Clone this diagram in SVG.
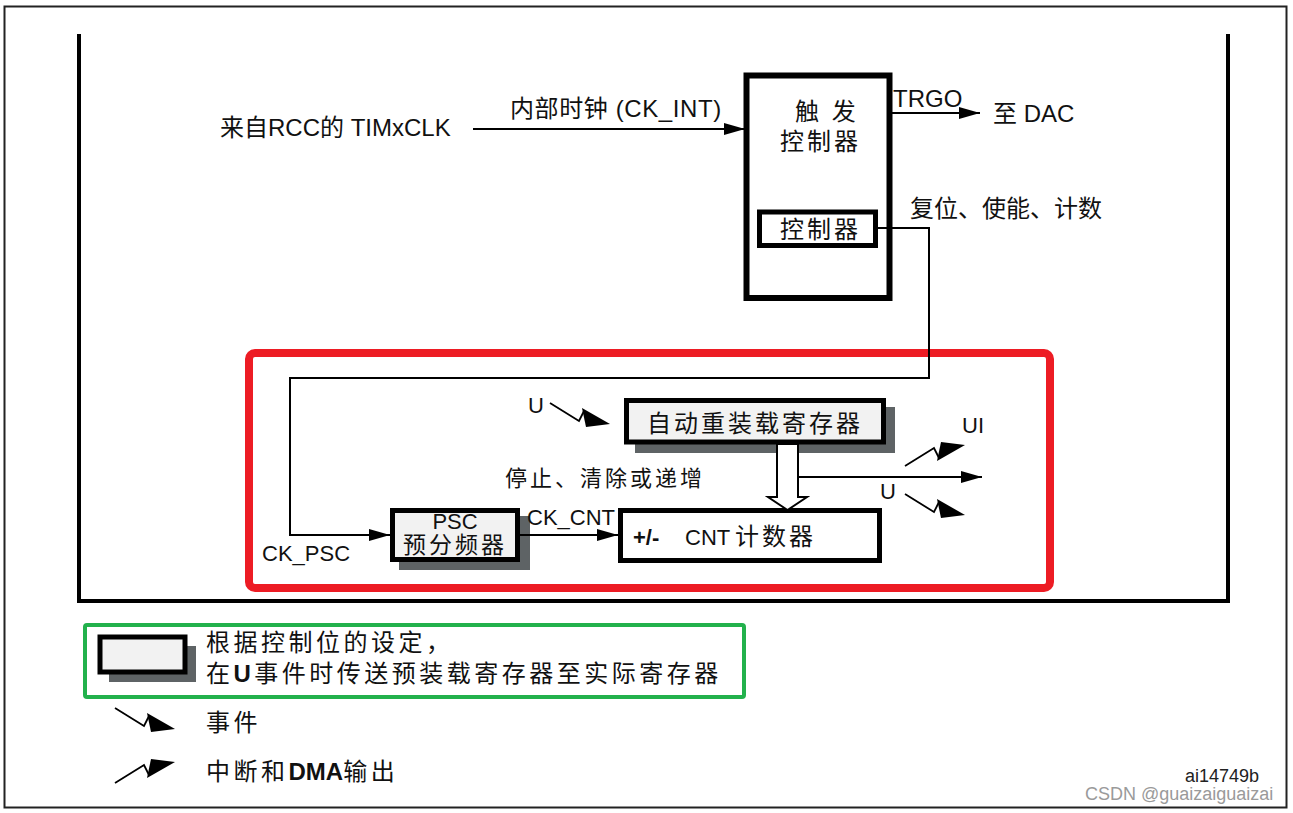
<svg xmlns="http://www.w3.org/2000/svg" width="1293" height="813" viewBox="0 0 1293 813">
<style>
text { font-family: "Liberation Sans", "Noto Sans CJK SC", sans-serif; fill: #111; font-size: 23px; }
.f22 { font-size: 22px; }
.f24 { font-size: 24px; }
.ls3 { letter-spacing: 3px; }
.ls35 { letter-spacing: 3.5px; }
.b { font-weight: bold; }
.box { fill: #fff; stroke: #000; }
.pre { fill: #f2f2f2; stroke: #000; stroke-width: 5; }
.shadow { fill: #5e6365; }
.wire { fill: none; stroke: #000; stroke-width: 2; }
.sym { fill: none; stroke: #000; stroke-width: 1.8; }
</style>
<defs>
<marker id="arr" markerUnits="userSpaceOnUse" markerWidth="22" markerHeight="14" refX="21" refY="7" orient="auto">
<path d="M0,1 L21,7 L0,13 z" fill="#000"/>
</marker>
<g id="evt">
<polyline points="0,0 29,18 34,8" class="sym"/>
<polygon points="32,5 60,21 36,24" fill="#000"/>
</g>
</defs>

<g id="frame">
<rect x="4.5" y="6.5" width="1282" height="801" fill="none" stroke="#222" stroke-width="2"/>
<path d="M79,34 V601 H1228 V34" fill="none" stroke="#000" stroke-width="4"/>
</g>

<g id="highlight-red">
<rect x="249" y="353" width="801" height="235" rx="6" fill="none" stroke="#ED1C24" stroke-width="8"/>
</g>

<g id="trigger-controller">
<rect class="box" x="746.5" y="75.5" width="143" height="222.5" stroke-width="6"/>
<text class="f24 ls3" x="795" y="120">触 发</text>
<text class="f24 ls3" x="780" y="150">控制器</text>
</g>

<g id="controller">
<rect class="box" x="759.5" y="212" width="116" height="33.5" stroke-width="5"/>
<text class="f24 ls3" x="780" y="238">控制器</text>
</g>

<g id="reload-register">
<rect class="shadow" x="635" y="407" width="260" height="46"/>
<rect class="pre" x="626.5" y="400.5" width="257" height="41.5"/>
<text class="f24 ls3" x="647" y="432">自动重装载寄存器</text>
</g>

<g id="psc">
<rect class="shadow" x="399" y="516" width="131" height="54"/>
<rect class="pre" x="392.5" y="510.5" width="125" height="49"/>
<text class="f22" x="455" y="529" text-anchor="middle">PSC</text>
<text class="ls3" x="403" y="553">预分频器</text>
</g>

<g id="cnt">
<rect class="box" x="620.5" y="510.5" width="259" height="50" stroke-width="5"/>
<text class="f22 b" x="633" y="545">+/-</text>
<text class="f22" x="685" y="545">CNT <tspan class="f24 ls3" x="735">计数器</tspan></text>
</g>

<g id="connectors">
<line class="wire" x1="473" y1="129" x2="745" y2="129" marker-end="url(#arr)"/>
<line class="wire" x1="892" y1="113" x2="980" y2="113" marker-end="url(#arr)"/>
<path class="wire" d="M878,228 H929 V378 H290 V535 H390" marker-end="url(#arr)"/>
<line class="wire" x1="520" y1="535" x2="618" y2="535" marker-end="url(#arr)"/>
<line class="wire" x1="798" y1="477" x2="982" y2="477" marker-end="url(#arr)"/>
<polygon points="777,444 777,497 768,497 787.5,510 807,497 798,497 798,444" fill="#fff" stroke="#000" stroke-width="2"/>
<use href="#evt" x="550" y="403"/>
<use href="#evt" transform="translate(905,466) scale(1,-1)"/>
<use href="#evt" x="905" y="494"/>
</g>

<g id="labels">
<text class="f24" x="220" y="136">来自RCC的 TIMxCLK</text>
<text class="f24" x="510" y="117" letter-spacing="0.6">内部时钟 (CK_INT)</text>
<text class="f24" x="893" y="107">TRGO</text>
<text class="f24" x="993" y="122">至 DAC</text>
<text class="f24" x="910" y="217">复位、使能、计数</text>
<text class="f22" x="528" y="413">U</text>
<text class="f22 ls3" x="505" y="486">停止、清除或递增</text>
<text class="f22" x="962" y="433">UI</text>
<text class="f22" x="880" y="499">U</text>
<text class="f22" x="527" y="525">CK_CNT</text>
<text class="f22" x="262" y="561">CK_PSC</text>
</g>

<g id="legend">
<rect x="85" y="625" width="659" height="72" rx="2" fill="none" stroke="#22B14C" stroke-width="4"/>
<rect class="shadow" x="109" y="646" width="87" height="36"/>
<rect class="pre" x="100" y="637" width="85" height="35" stroke-width="6"/>
<text class="f24 ls35" x="206" y="651">根据控制位的设定，</text>
<text class="f24 ls35" x="206" y="682">在<tspan class="b">U</tspan>事件时传送预装载寄存器至实际寄存器</text>
<use href="#evt" x="115" y="708"/>
<text class="f24 ls35" x="206" y="731">事件</text>
<use href="#evt" transform="translate(115,783) scale(1,-1)"/>
<text class="f24 ls35" x="206" y="780">中断和<tspan class="b" letter-spacing="0">DMA</tspan>输出</text>
</g>

<g id="footer">
<text x="1185" y="782" style="font-size:18px;fill:#222">ai14749b</text>
<text x="1085" y="800" style="font-size:18px;fill:#9a9a9a">CSDN @guaizaiguaizai</text>
</g>
</svg>
